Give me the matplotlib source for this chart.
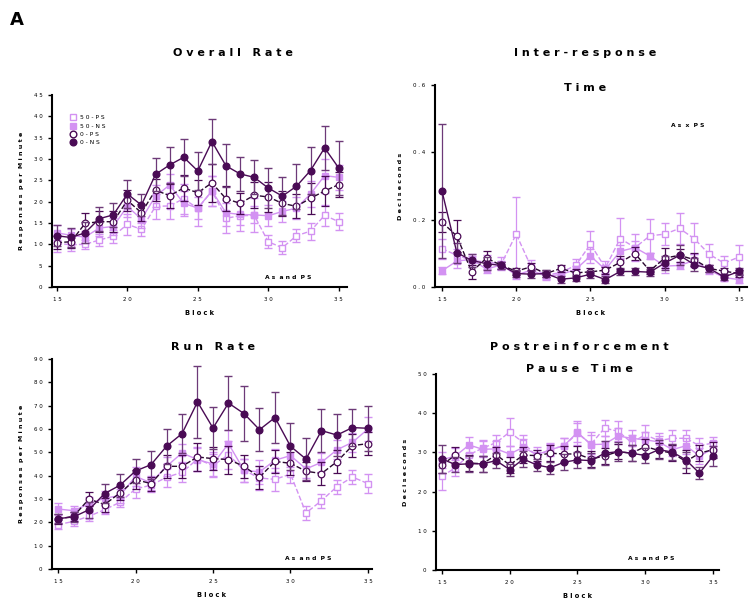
import matplotlib.pyplot as plt
from matplotlib.lines import Line2D

blocks = list(range(15, 36))

# Overall rate (responses per minute)
rate_50ps = [10.2, 9.9, 10.0, 11.0, 11.9, 14.7, 13.5, 18.9, 19.0, 20.7, 18.4, 22.5, 16.1, 16.7, 16.8, 10.6, 9.2, 12.0, 13.1, 16.8, 15.3]
rate_50ns = [12.7, 12.1, 11.7, 13.8, 14.2, 18.9, 15.9, 21.3, 23.9, 19.6, 18.5, 22.5, 17.4, 17.0, 16.9, 16.7, 17.7, 18.5, 21.8, 26.1, 25.7]
rate_0ps = [10.4, 10.6, 14.9, 15.3, 15.3, 20.3, 17.4, 22.7, 21.4, 23.2, 22.1, 24.4, 20.7, 19.6, 21.5, 21.1, 19.6, 18.9, 20.8, 22.5, 24.0]
rate_0ns = [12.0, 11.6, 12.7, 16.0, 16.9, 21.8, 19.2, 26.4, 28.6, 30.4, 27.2, 34.1, 28.4, 26.5, 25.7, 23.2, 21.3, 23.6, 27.3, 32.6, 27.9]
rate_50ps_err = [2.0, 1.5, 1.0, 1.5, 1.5, 2.5, 1.5, 3.0, 3.0, 3.5, 4.0, 3.5, 3.5, 3.5, 4.0, 1.5, 1.5, 1.5, 2.0, 2.5, 2.0]
rate_50ns_err = [1.8, 1.5, 1.5, 1.8, 2.0, 2.5, 2.0, 2.5, 2.5, 3.0, 2.5, 3.5, 3.0, 2.5, 2.0, 2.5, 2.5, 2.5, 3.0, 4.0, 3.0]
rate_0ps_err = [1.5, 1.5, 2.4, 2.5, 2.4, 2.5, 2.0, 2.5, 2.8, 3.0, 3.0, 4.5, 3.0, 2.5, 3.0, 3.5, 3.0, 2.8, 3.6, 3.5, 3.0]
rate_0ns_err = [2.5, 2.2, 2.5, 2.8, 2.9, 3.2, 2.5, 3.9, 4.2, 4.3, 4.4, 5.2, 5.0, 4.0, 4.0, 4.6, 4.5, 5.3, 5.4, 5.2, 6.3]

# Inter-response time (deciseconds)
irt_50ps = [0.114, 0.094, 0.079, 0.074, 0.069, 0.157, 0.060, 0.035, 0.043, 0.064, 0.127, 0.057, 0.144, 0.117, 0.152, 0.157, 0.174, 0.143, 0.097, 0.071, 0.089]
irt_50ns = [0.048, 0.077, 0.082, 0.053, 0.066, 0.035, 0.050, 0.032, 0.037, 0.052, 0.092, 0.052, 0.106, 0.117, 0.092, 0.062, 0.064, 0.079, 0.050, 0.028, 0.022]
irt_0ps = [0.193, 0.151, 0.045, 0.086, 0.064, 0.047, 0.060, 0.040, 0.055, 0.042, 0.045, 0.050, 0.073, 0.099, 0.048, 0.086, 0.094, 0.081, 0.055, 0.047, 0.040]
irt_0ns = [0.285, 0.102, 0.079, 0.069, 0.064, 0.040, 0.038, 0.040, 0.023, 0.027, 0.038, 0.022, 0.046, 0.046, 0.044, 0.071, 0.094, 0.066, 0.055, 0.030, 0.046]
irt_50ps_err = [0.03, 0.02, 0.02, 0.02, 0.02, 0.11, 0.02, 0.01, 0.02, 0.02, 0.04, 0.02, 0.062, 0.04, 0.05, 0.032, 0.045, 0.046, 0.032, 0.02, 0.035]
irt_50ns_err = [0.01, 0.02, 0.01, 0.01, 0.01, 0.01, 0.01, 0.01, 0.01, 0.01, 0.02, 0.01, 0.02, 0.02, 0.01, 0.02, 0.01, 0.02, 0.01, 0.01, 0.01]
irt_0ps_err = [0.03, 0.047, 0.02, 0.02, 0.01, 0.01, 0.01, 0.01, 0.01, 0.01, 0.01, 0.01, 0.02, 0.02, 0.01, 0.03, 0.02, 0.02, 0.01, 0.01, 0.01]
irt_0ns_err = [0.20, 0.03, 0.02, 0.02, 0.01, 0.01, 0.01, 0.01, 0.01, 0.01, 0.01, 0.01, 0.01, 0.01, 0.01, 0.02, 0.03, 0.02, 0.01, 0.01, 0.01]

# Run rate (responses per minute)
run_50ps = [19.0, 20.4, 22.6, 25.4, 28.6, 34.3, 35.9, 39.3, 41.4, 47.1, 44.3, 49.0, 42.3, 39.0, 38.4, 40.7, 24.0, 29.3, 35.3, 39.4, 36.6]
run_50ns = [25.7, 25.0, 27.9, 30.4, 31.4, 39.7, 36.9, 44.0, 49.7, 46.9, 45.0, 53.7, 42.3, 41.6, 46.6, 48.6, 42.9, 45.7, 51.1, 54.3, 60.0]
run_0ps = [21.4, 22.6, 30.0, 27.6, 32.6, 38.3, 36.6, 44.0, 44.0, 48.0, 47.3, 46.9, 44.0, 39.3, 46.1, 45.3, 41.9, 40.9, 46.0, 52.9, 53.7]
run_0ns = [21.6, 22.3, 25.4, 32.3, 35.9, 42.0, 44.7, 52.6, 58.0, 71.6, 60.4, 71.1, 66.6, 59.7, 64.9, 52.6, 47.1, 59.3, 57.4, 60.6, 60.3]
run_50ps_err = [2, 2, 2, 2, 2, 4, 3, 4, 4, 5, 5, 6, 5, 5, 5, 4, 3, 3, 3, 3, 4]
run_50ns_err = [2.5, 2, 3, 3, 3, 4, 3, 4, 4, 5, 5, 6, 5, 5, 5, 5, 4, 4, 4, 4, 5]
run_0ps_err = [2, 2, 3, 3, 3, 4, 3, 5, 5, 6, 5, 6, 5, 5, 5, 5, 4, 5, 5, 5, 5]
run_0ns_err = [2, 2, 3.5, 4, 5, 5, 6, 7.5, 8.5, 15.6, 9, 11.4, 11.7, 9.1, 10.9, 10, 9, 9.3, 9.1, 8, 9.7]

# Postreinforcement pause time (deciseconds)
prp_50ps = [23.9, 26.1, 29.4, 31.1, 32.5, 35.2, 32.5, 29.0, 30.8, 31.7, 34.9, 32.1, 36.2, 35.4, 32.5, 34.5, 33.0, 33.6, 33.6, 31.7, 32.4]
prp_50ns = [28.1, 29.1, 31.9, 30.8, 30.9, 29.6, 31.3, 29.4, 30.7, 31.7, 35.1, 32.0, 32.1, 34.2, 33.6, 33.2, 32.7, 30.7, 31.7, 29.1, 30.9]
prp_0ps = [26.7, 29.4, 27.3, 27.1, 29.4, 26.8, 29.3, 29.2, 29.8, 29.6, 29.6, 28.3, 29.1, 30.2, 29.8, 31.5, 30.5, 29.8, 27.7, 29.8, 30.7]
prp_0ns = [28.3, 26.9, 27.1, 27.1, 27.9, 25.6, 28.3, 26.8, 26.1, 27.5, 28.1, 27.9, 29.8, 30.2, 29.8, 29.2, 30.7, 30.1, 28.1, 24.7, 29.1]
prp_50ps_err = [3.5, 2, 2, 2, 2, 3.5, 2, 1.5, 1.5, 2, 3, 3, 2, 2.5, 2, 2.5, 2, 2, 2, 2, 1.5]
prp_50ns_err = [2, 2, 2, 2, 2, 2, 2, 2, 1.5, 2, 2.5, 2.5, 2, 2, 2, 2, 1.5, 1.5, 2, 2, 2]
prp_0ps_err = [2, 2, 2, 2, 2, 2, 2, 1.5, 2, 2, 2, 2, 2, 2, 2, 2, 2, 2, 3, 2, 2]
prp_0ns_err = [3.5, 2, 2, 2, 2, 1.5, 2, 1.5, 1.5, 2, 2, 2, 3, 2.5, 2, 2, 2.5, 2, 2, 1.5, 2.5]

DARK = "#4a0b55"
LIGHT = "#d392f2"
MS = 4.8


def espacar(texto, gap="   "):
    # imita o espaçamento entre letras do gráfico original
    return gap.join(" ".join(p) for p in texto.split(" "))


def plotar_painel(ax, series, ylim, yticks, ytick_fmt, xlim, ylabel, nota, nota_pos, legenda=False):
    s50ps, e50ps, s50ns, e50ns, s0ps, e0ps, s0ns, e0ns = series
    ax.errorbar(blocks, s50ps, yerr=e50ps, color=LIGHT, ls="--", lw=1.0, marker="s", ms=MS,
                mfc="white", mec=LIGHT, mew=1.0, capsize=3, elinewidth=0.9, zorder=2)
    ax.errorbar(blocks, s50ns, yerr=e50ns, color=LIGHT, ls="-", lw=1.0, marker="s", ms=MS - 0.3,
                mfc=LIGHT, mec=LIGHT, capsize=3, elinewidth=0.9, zorder=3)
    ax.errorbar(blocks, s0ps, yerr=e0ps, color="#2a0830", ls="--", lw=1.0, marker="o", ms=MS,
                mfc="white", mec=DARK, mew=0.9, ecolor=DARK, capsize=3, elinewidth=0.9, zorder=4)
    ax.errorbar(blocks, s0ns, yerr=e0ns, color=DARK, ls="-", lw=1.0, marker="o", ms=MS,
                mfc=DARK, mec=DARK, ecolor="#6d3a78", capsize=3, elinewidth=0.9, zorder=5)

    ax.set_xlim(*xlim)
    ax.set_ylim(*ylim)
    ax.set_xticks([15, 20, 25, 30, 35])
    ax.set_xticklabels([" ".join(str(b)) for b in [15, 20, 25, 30, 35]], fontsize=4)
    ax.set_yticks(yticks)
    ax.set_yticklabels([" ".join(ytick_fmt.format(v)) for v in yticks], fontsize=4)
    ax.tick_params(axis="both", length=3, width=1.0, pad=4)
    for lado in ["top", "right"]:
        ax.spines[lado].set_visible(False)
    for lado in ["left", "bottom"]:
        ax.spines[lado].set_linewidth(1.5)

    ax.set_xlabel(espacar("Block"), fontsize=4.8, fontweight="bold", labelpad=6)
    ax.set_ylabel(espacar(ylabel, gap="  "), fontsize=4.6, fontweight="bold", labelpad=7)
    ax.text(nota_pos[0], nota_pos[1], espacar(nota, gap="  "), fontsize=4.3, fontweight="bold",
            transform=ax.transAxes, ha="center", va="center")

    if legenda:
        handles = [
            Line2D([], [], ls="none", marker="s", ms=MS, mfc="white", mec=LIGHT),
            Line2D([], [], ls="none", marker="s", ms=MS, mfc=LIGHT, mec=LIGHT),
            Line2D([], [], ls="none", marker="o", ms=MS, mfc="white", mec=DARK),
            Line2D([], [], ls="none", marker="o", ms=MS, mfc=DARK, mec=DARK),
        ]
        rotulos = [" ".join(r) for r in ["50-PS", "50-NS", "0-PS", "0-NS"]]
        ax.legend(handles, rotulos, loc="upper left", bbox_to_anchor=(0.05, 0.91), frameon=False,
                  fontsize=4.3, handletextpad=0.8, labelspacing=0.5, borderpad=0, handlelength=1.0)


def titulo(x, y, texto):
    fig.text(x, 1 - y / 599, espacar(texto), fontsize=8, fontweight="semibold",
             ha="center", va="center")


fig = plt.figure(figsize=(7.5, 5.99), dpi=100)

ax1 = fig.add_axes([0.0693, 0.5209, 0.393, 0.3205])
plotar_painel(ax1, [rate_50ps, rate_50ps_err, rate_50ns, rate_50ns_err, rate_0ps, rate_0ps_err, rate_0ns, rate_0ns_err],
              (0, 45), list(range(0, 46, 5)), "{:d}", (14.65, 35.57),
              "Responses per Minute", "As and PS", (0.8, 0.05), legenda=True)
titulo(233 / 750, 53, "Overall Rate")

ax2 = fig.add_axes([0.58, 0.5209, 0.416, 0.3372])
plotar_painel(ax2, [irt_50ps, irt_50ps_err, irt_50ns, irt_50ns_err, irt_0ps, irt_0ps_err, irt_0ns, irt_0ns_err],
              (0, 0.6), [0.0, 0.2, 0.4, 0.6], "{:.1f}", (14.53, 35.54),
              "Deciseconds", "As x PS", (0.81, 0.8))
titulo(585 / 750, 53, "Inter-response")
titulo(585 / 750, 88, "Time")

ax3 = fig.add_axes([0.0693, 0.0501, 0.4267, 0.3506])
plotar_painel(ax3, [run_50ps, run_50ps_err, run_50ns, run_50ns_err, run_0ps, run_0ps_err, run_0ns, run_0ns_err],
              (0, 90), list(range(0, 91, 10)), "{:d}", (14.61, 35.26),
              "Responses per Minute", "As and PS", (0.8, 0.05))
titulo(213 / 750, 347, "Run Rate")

ax4 = fig.add_axes([0.5813, 0.0484, 0.3773, 0.3272])
plotar_painel(ax4, [prp_50ps, prp_50ps_err, prp_50ns, prp_50ns_err, prp_0ps, prp_0ps_err, prp_0ns, prp_0ns_err],
              (0, 50), list(range(0, 51, 10)), "{:d}", (14.56, 35.44),
              "Deciseconds", "As and PS", (0.76, 0.06))
titulo(579 / 750, 347, "Postreinforcement")
titulo(579 / 750, 369, "Pause Time")

fig.text(0.013, 1 - 20 / 599, "A", fontsize=13, fontweight="bold", ha="left", va="center")

fig.savefig("out.png", dpi=100)
